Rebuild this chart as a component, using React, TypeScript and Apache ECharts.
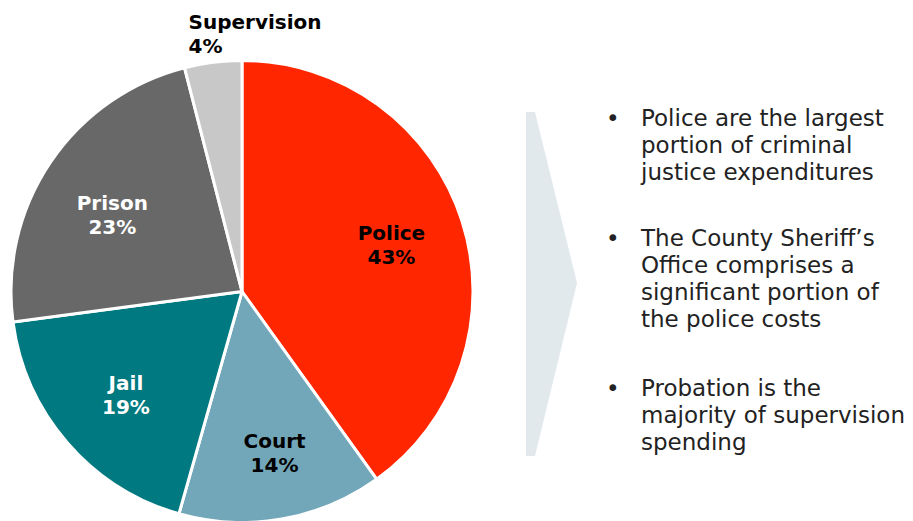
import React, { useEffect, useRef } from "react";
import * as echarts from "echarts";

const categories = ["Police", "Court", "Jail", "Prison", "Supervision"];
const shares = [40.1, 14.3, 18.5, 23.1, 4.0];
const shareLabels = ["43%", "14%", "19%", "23%", "4%"];
const sliceColors = ["#ff2600", "#72a7b9", "#007a80", "#686868", "#c8c8c8"];
const labelColors = ["#000000", "#000000", "#ffffff", "#ffffff", "#000000"];

const bullets = [
  "Police are the largest\nportion of criminal\njustice expenditures",
  "The County Sheriff\u2019s\nOffice comprises a\nsignificant portion of\nthe police costs",
  "Probation is the\nmajority of supervision\nspending",
];

export default function App() {
  const ref = useRef<HTMLDivElement>(null);
  useEffect(() => {
    document.body.style.margin = "0";
    if (!ref.current) return;
    const chart = echarts.init(ref.current, null, { renderer: "svg" });
    const font = "'DejaVu Sans', Verdana, sans-serif";
    const center = [242, 291.5];
    const R = 231;
    const bulletTops = [104, 224, 374];
    const nudges = [
      [-3, 2],
      [5, 4],
      [5, -1],
      [3, 13],
    ];

    const fillData = categories.map((c, i) => ({
      name: c,
      value: shares[i],
      itemStyle: { color: sliceColors[i] },
    }));
    const labelData = categories.map((c, i) => ({
      name: c,
      value: shares[i],
      label: { color: labelColors[i] },
    }));

    const graphics: any[] = [
      {
        type: "polygon",
        shape: {
          points: [
            [526, 112],
            [535, 112],
            [577, 283],
            [535, 456],
            [526, 456],
          ],
        },
        style: { fill: "#e1e9ed" },
        silent: true,
      },
    ];
    bullets.forEach((b, i) => {
      graphics.push({
        type: "text",
        x: 606,
        y: bulletTops[i],
        style: {
          text: "\u2022",
          font: `23px ${font}`,
          fill: "#222222",
          lineHeight: 27,
          verticalAlign: "top",
        },
      });
      graphics.push({
        type: "text",
        x: 641,
        y: bulletTops[i],
        style: {
          text: b,
          font: `23px ${font}`,
          fill: "#222222",
          lineHeight: 27,
          verticalAlign: "top",
        },
      });
    });

    chart.setOption({
      animation: false,
      graphic: graphics,
      series: [
        {
          type: "pie",
          center,
          radius: [0, R],
          startAngle: 90,
          clockwise: true,
          silent: true,
          label: { show: false },
          labelLine: { show: false },
          itemStyle: { borderColor: "#ffffff", borderWidth: 3 },
          data: fillData,
        },
        {
          type: "pie",
          center,
          radius: [R * 0.36, R],
          startAngle: 90,
          clockwise: true,
          silent: true,
          itemStyle: { color: "rgba(0,0,0,0)", borderWidth: 0 },
          labelLine: { show: false },
          label: {
            show: true,
            position: "inside",
            fontFamily: font,
            fontWeight: "bold",
            fontSize: 20,
            lineHeight: 24,
            formatter: (p: any) => `${p.name}\n${shareLabels[p.dataIndex]}`,
          },
          labelLayout: (p: any) => {
            if (p.dataIndex === categories.length - 1) {
              return {
                x: p.rect.x + 4,
                y: p.rect.y - 3,
                align: "left",
                verticalAlign: "bottom",
              };
            }
            const n = nudges[p.dataIndex];
            return { dx: n[0], dy: n[1] };
          },
          data: labelData,
        },
      ],
    });
    return () => chart.dispose();
  }, []);
  return <div ref={ref} style={{ width: 913, height: 521 }} />;
}
